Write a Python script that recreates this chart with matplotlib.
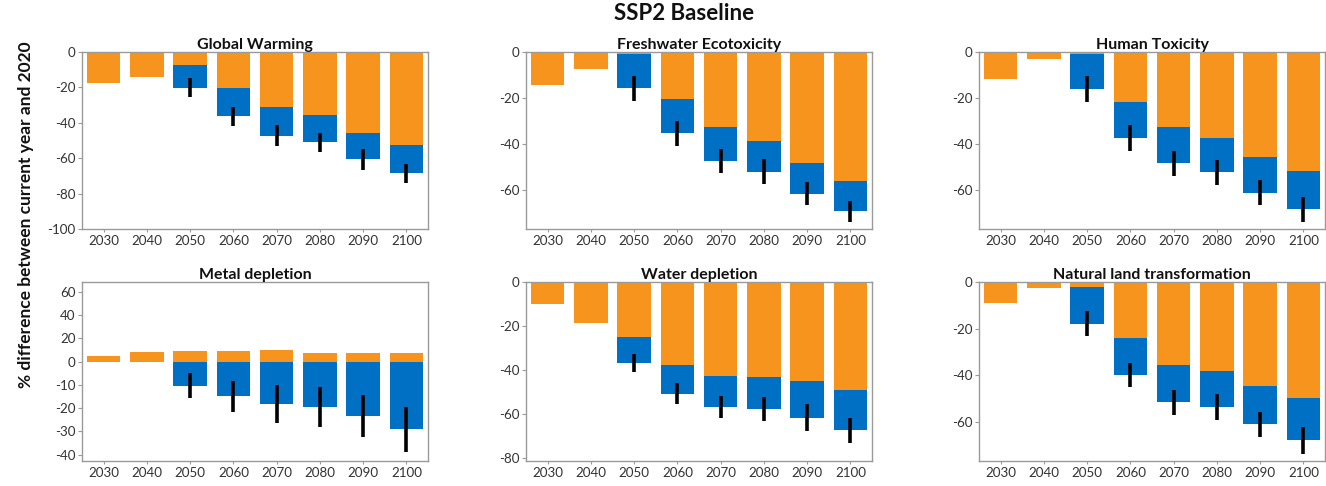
import numpy as np
import matplotlib
matplotlib.use("Agg")
import matplotlib.pyplot as plt

plt.rcParams['font.family'] = ['Lato', 'DejaVu Sans']

years = [2030, 2040, 2050, 2060, 2070, 2080, 2090, 2100]
year_labels = ["2030", "2040", "2050", "2060", "2070", "2080", "2090", "2100"]

titles = ["Global Warming", "Freshwater Ecotoxicity", "Human Toxicity",
          "Metal depletion", "Water depletion", "Natural land transformation"]

# orange component (% difference)
gw_orange = [-17.3, -13.9, -7.5, -20.5, -31.2, -35.7, -45.5, -52.8]
fe_orange = [-14.1, -7.3, -1.0, -20.4, -32.5, -38.4, -48.3, -55.8]
ht_orange = [-11.7, -3.2, -0.7, -21.6, -32.5, -37.1, -45.6, -51.7]
md_orange = [5.2, 8.2, 9.5, 9.3, 9.7, 7.6, 7.6, 7.6]
wd_orange = [-9.9, -18.5, -24.9, -37.7, -42.6, -43.2, -45.3, -49.2]
nl_orange = [-9.2, -2.7, -2.2, -24.2, -35.5, -38.1, -44.6, -49.8]

# end of blue component (total value), NaN where absent
nan = np.nan
gw_total = [nan, nan, -20.1, -36.3, -47.2, -51.1, -60.7, -68.6]
fe_total = [nan, nan, -15.8, -35.3, -47.3, -51.8, -61.4, -69.1]
ht_total = [nan, nan, -16.1, -37.1, -48.3, -52.2, -60.9, -68.1]
md_total = [nan, nan, -10.3, -14.8, -18.2, -19.5, -23.4, -29.1]
wd_total = [nan, nan, -36.9, -50.8, -56.9, -57.7, -61.7, -67.6]
nl_total = [nan, nan, -17.8, -39.9, -51.5, -53.7, -61.0, -67.8]

# error bar half-lengths
gw_err = [nan, nan, 5.5, 5.5, 5.8, 5.6, 5.7, 5.6]
fe_err = [nan, nan, 5.3, 5.3, 5.3, 5.3, 5.0, 4.6]
ht_err = [nan, nan, 5.6, 5.6, 5.6, 5.3, 5.5, 5.4]
md_err = [nan, nan, 5.3, 6.7, 8.0, 8.4, 9.1, 9.7]
wd_err = [nan, nan, 4.3, 4.9, 5.1, 5.5, 6.0, 5.8]
nl_err = [nan, nan, 5.5, 5.3, 5.3, 5.5, 5.4, 5.7]

oranges = [gw_orange, fe_orange, ht_orange, md_orange, wd_orange, nl_orange]
totals = [gw_total, fe_total, ht_total, md_total, wd_total, nl_total]
errs = [gw_err, fe_err, ht_err, md_err, wd_err, nl_err]

ylims = [(-100, 0), (-76.7, 0), (-76.7, 0), (-42.7, 68.5), (-81.5, 0), (-76.7, 0)]
yticks = [[0, -20, -40, -60, -80, -100],
          [0, -20, -40, -60],
          [0, -20, -40, -60],
          [60, 40, 20, 0, -10, -20, -30, -40],
          [0, -20, -40, -60, -80],
          [0, -20, -40, -60]]

ORANGE = "#F7941E"
BLUE = "#0070C4"
SPINE = "#9a9a9a"
TXT = "#333333"

W, H = 1326, 486
fig = plt.figure(figsize=(W / 100, H / 100), dpi=100)

col_left = [82, 526, 979]
col_w = 346
rows = [(52, 229), (282, 461)]

def fwd(y):
    y = np.asarray(y, dtype=float)
    return np.where(y > 0, y / 2.0, y)

def inv(y):
    y = np.asarray(y, dtype=float)
    return np.where(y > 0, y * 2.0, y)

for i in range(6):
    r, c = divmod(i, 3)
    top, bot = rows[r]
    ax = fig.add_axes([col_left[c] / W, 1 - bot / H, col_w / W, (bot - top) / H])
    if i == 3:
        ax.set_yscale('function', functions=(fwd, inv))
    o = np.array(oranges[i], dtype=float)
    t = np.array(totals[i], dtype=float)
    e = np.array(errs[i], dtype=float)
    x = np.array(years, dtype=float)
    ax.bar(x, o, width=7.7, color=ORANGE, linewidth=0, zorder=2)
    base = np.minimum(o, 0)
    m = ~np.isnan(t)
    ax.bar(x[m], t[m] - base[m], bottom=base[m], width=7.7, color=BLUE,
           linewidth=0, zorder=2)
    ax.errorbar(x[m], t[m], yerr=e[m], fmt='none', ecolor='black',
                elinewidth=2.6, capsize=0, zorder=3)
    ax.set_xlim(2025, 2105)
    ax.set_ylim(*ylims[i])
    ax.set_yticks(yticks[i])
    ax.set_yticklabels([str(v) for v in yticks[i]])
    ax.set_xticks(years)
    ax.set_xticklabels(year_labels)
    for s in ax.spines.values():
        s.set_color(SPINE)
        s.set_linewidth(1.0)
    ax.tick_params(axis='y', direction='out', length=3, width=0.8, color=SPINE,
                   labelsize=9.6, labelcolor=TXT, pad=1.5)
    ax.tick_params(axis='x', direction='out', length=2, width=0.8, color=SPINE,
                   labelsize=9.6, labelcolor=TXT, pad=2.5)
    ax.set_title(titles[i], fontsize=11.5, fontweight='bold', pad=2.5, color='#111111')

fig.text(684.5 / W, 1 - 14 / H, "SSP2 Baseline", ha='center', va='center',
         fontsize=16, fontweight='bold', color='#111111')
fig.text(26 / W, 1 - 215 / H, "% difference between current year and 2020",
         rotation=90, ha='center', va='center', fontsize=12.5, fontweight='bold',
         color='#111111')

fig.savefig("out.png", dpi=100)
